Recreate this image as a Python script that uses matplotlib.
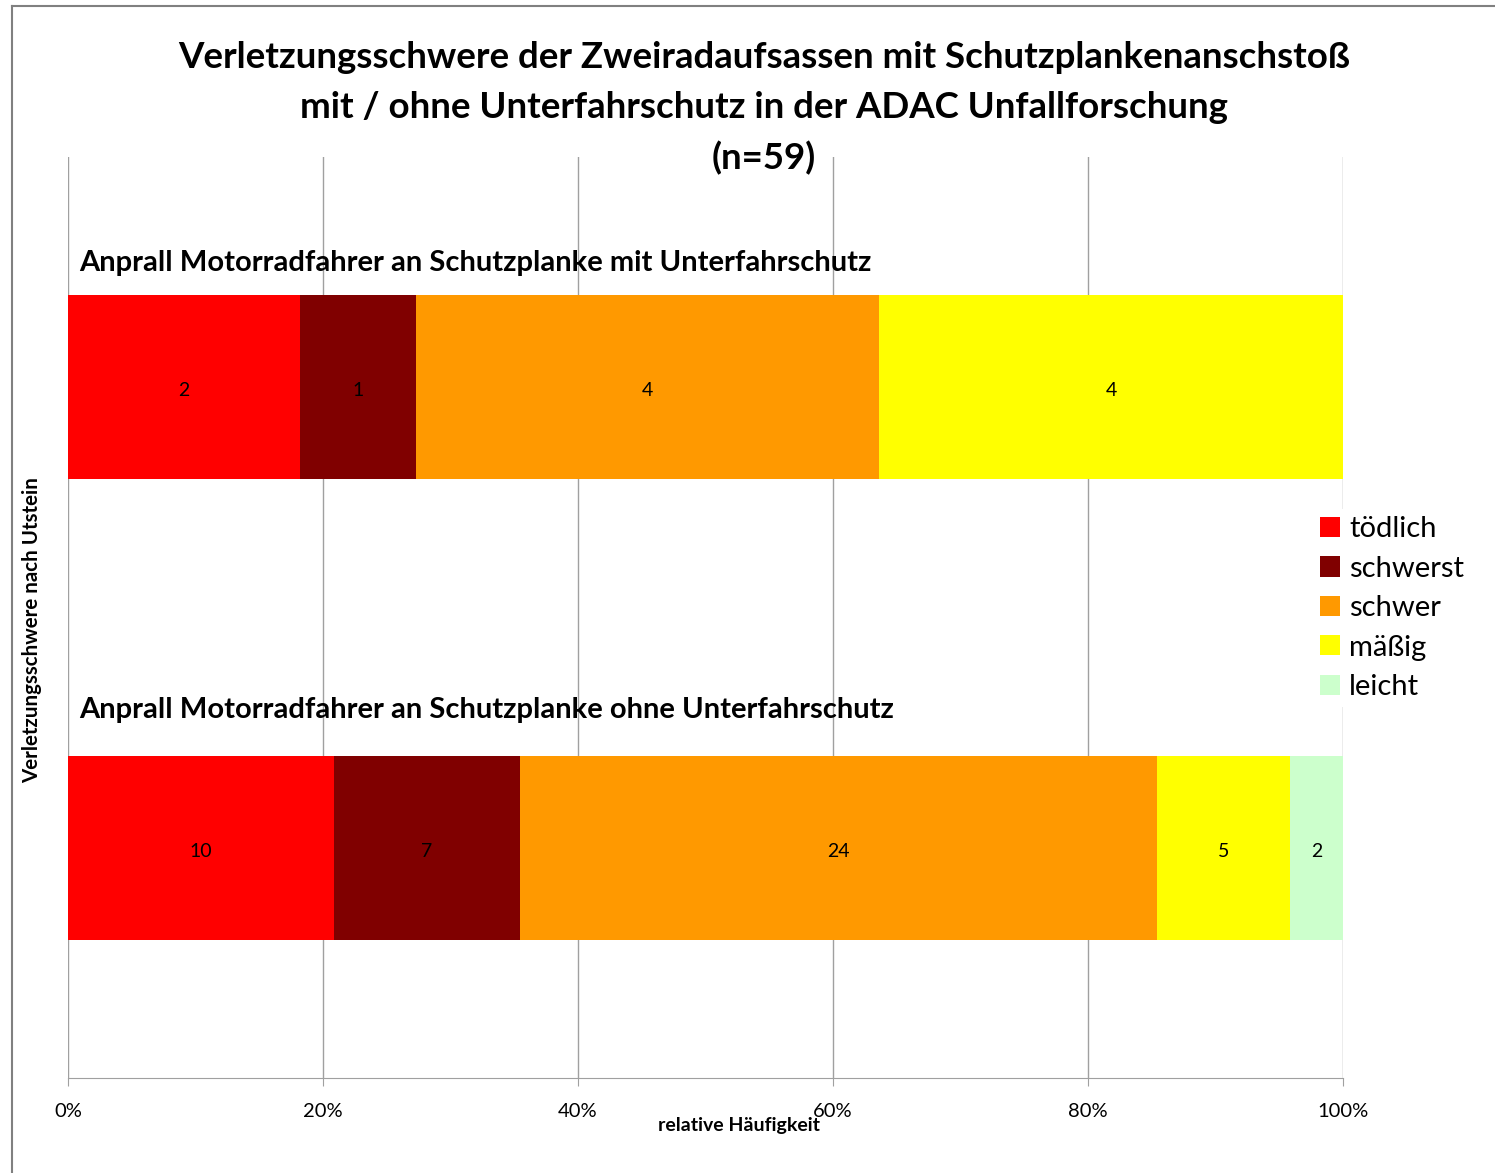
import matplotlib.pyplot as plt
from matplotlib.lines import Line2D
from matplotlib.patches import Patch
from matplotlib.ticker import PercentFormatter

plt.rcParams['font.family'] = ['Lato', 'DejaVu Sans']

# --- data (counts per injury severity) ---
categories = [
    "Anprall Motorradfahrer an Schutzplanke mit Unterfahrschutz",
    "Anprall Motorradfahrer an Schutzplanke ohne Unterfahrschutz",
]
severities = ["tödlich", "schwerst", "schwer", "mäßig", "leicht"]
colors = ["#FF0000", "#800000", "#FF9900", "#FFFF00", "#CCFFCC"]
counts_mit = [2, 1, 4, 4, 0]
counts_ohne = [10, 7, 24, 5, 2]
x_ticks = [0, 20, 40, 60, 80, 100]

counts = [counts_mit, counts_ohne]

fig = plt.figure(figsize=(14.95, 11.73), dpi=100)
ax = fig.add_axes([68 / 1495, 1 - 1078 / 1173, (1343 - 68) / 1495, (1078 - 157) / 1173])

# --- stacked 100% bars ---
for i, row in enumerate(counts):
    total = sum(row)
    left = 0.0
    for j, c in enumerate(row):
        w = 100.0 * c / total
        if c > 0:
            ax.barh(i, w, left=left, height=0.4, color=colors[j], edgecolor="none", zorder=3)
            ax.text(left + w / 2, i + 0.008, str(c), ha="center", va="center", fontsize=14, zorder=4)
        left += w

# category labels above each bar
label_offsets = [0.27, 0.30]
for i, cat in enumerate(categories):
    ax.text(0.9, i - label_offsets[i], cat, ha="left", va="center",
            fontsize=21, fontweight="bold", zorder=5)

ax.set_xlim(0, 100)
ax.set_ylim(1.5, -0.5)
ax.set_yticks([])
ax.set_xticks(x_ticks)
ax.xaxis.set_major_formatter(PercentFormatter(decimals=0))
ax.tick_params(axis="x", length=6, color="#A0A0A0", labelsize=14.5, pad=12)
ax.grid(True, axis="x", color="#A0A0A0", linewidth=1.0, zorder=0)
for s in ["top", "right", "left"]:
    ax.spines[s].set_visible(False)
ax.spines["bottom"].set_color("#A0A0A0")

# axis titles
fig.text(739 / 1495, 1 - 1126 / 1173, "relative Häufigkeit", ha="center", va="center",
         fontsize=14, fontweight="bold")
fig.text(32 / 1495, 1 - 630 / 1173, "Verletzungsschwere nach Utstein", ha="center", va="center",
         rotation=90, fontsize=14.8, fontweight="bold")

# title
title_lines = [
    "Verletzungsschwere der Zweiradaufsassen mit Schutzplankenanschstoß",
    "mit / ohne Unterfahrschutz in der ADAC Unfallforschung",
    "(n=59)",
]
for k, line in enumerate(title_lines):
    fig.text(764 / 1495, 1 - (58 + 50 * k) / 1173, line, ha="center", va="center",
             fontsize=26.4, fontweight="bold", zorder=6)

# legend
handles = [Patch(facecolor=c, edgecolor="none") for c in colors]
leg = fig.legend(handles, severities, loc="upper left",
                 bbox_to_anchor=(1313 / 1495, 1 - 509 / 1173),
                 frameon=True, fontsize=21, handlelength=0.68, handleheight=0.68,
                 handletextpad=0.3, labelspacing=0.46, borderaxespad=0, borderpad=0.25)
leg.get_frame().set_facecolor("white")
leg.get_frame().set_edgecolor("none")
leg.get_frame().set_alpha(1.0)

# outer chart border (top and left only visible)
fig.add_artist(Line2D([12 / 1495, 12 / 1495], [0, 1 - 6 / 1173], color="#808080", linewidth=1.5))
fig.add_artist(Line2D([12 / 1495, 1], [1 - 6 / 1173, 1 - 6 / 1173], color="#808080", linewidth=1.5))

fig.savefig("out.png", dpi=100)
